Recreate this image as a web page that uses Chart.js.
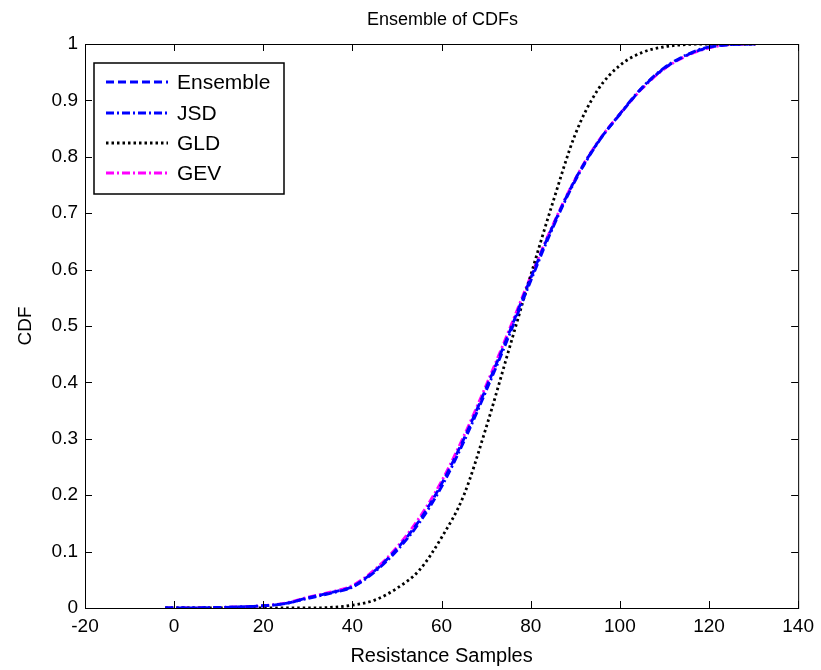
<!DOCTYPE html>
<html><head><meta charset="utf-8">
<script src="https://cdn.jsdelivr.net/npm/chart.js@4.4.1/dist/chart.umd.min.js"></script>
<style>html,body{margin:0;padding:0;background:#fff}#wrap{width:821px;height:670px}</style>
</head><body><div id="wrap"><canvas id="c" width="821" height="670"></canvas></div>
<script>
const titleText = "Ensemble of CDFs";
const xLabel = "Resistance Samples";
const yLabel = "CDF";
const seriesNames = ["Ensemble", "JSD", "GLD", "GEV"];

const xGrid = [-2, 0, 10, 20, 25, 30, 35, 40, 45, 50, 55, 60, 65, 70, 75, 80, 85, 90, 95, 100, 105, 110, 115, 120, 125, 130.4];
const ensembleCdf = [0, 0, 0.001, 0.004, 0.008, 0.018, 0.027, 0.038, 0.066, 0.105, 0.155, 0.22, 0.3, 0.39, 0.485, 0.585, 0.678, 0.76, 0.825, 0.875, 0.922, 0.957, 0.98, 0.994, 0.999, 1];
const jsdCdf      = [0, 0, 0.001, 0.004, 0.008, 0.017, 0.026, 0.037, 0.064, 0.102, 0.151, 0.215, 0.295, 0.385, 0.48, 0.58, 0.675, 0.758, 0.824, 0.876, 0.923, 0.958, 0.981, 0.995, 0.999, 1];
const gldCdf      = [0, 0, 0, 0, 0, 0, 0.001, 0.005, 0.014, 0.035, 0.067, 0.125, 0.2, 0.32, 0.455, 0.59, 0.72, 0.84, 0.918, 0.962, 0.985, 0.995, 0.999, 1, 1, 1];
const gevCdf      = [0, 0, 0.001, 0.004, 0.009, 0.019, 0.028, 0.04, 0.068, 0.108, 0.16, 0.225, 0.305, 0.395, 0.49, 0.588, 0.68, 0.761, 0.826, 0.876, 0.921, 0.956, 0.979, 0.993, 0.999, 1];

const xTicks = [-20, 0, 20, 40, 60, 80, 100, 120, 140];
const yTicks = [0, 0.1, 0.2, 0.3, 0.4, 0.5, 0.6, 0.7, 0.8, 0.9, 1];
const yTickLabels = ["0", "0.1", "0.2", "0.3", "0.4", "0.5", "0.6", "0.7", "0.8", "0.9", "1"];

const seriesData = [ensembleCdf, jsdCdf, gldCdf, gevCdf];
const colors = ["#0000ff", "#0000ff", "#000000", "#ff00ff"];
const dashes = [[8, 4], [8, 3, 2, 3], [2.5, 3], [8, 3, 2, 3]];
const FONT = "'Liberation Sans', Arial, Helvetica, sans-serif";

function pts(ys){ return xGrid.map((x,i)=>({x:x, y:ys[i]})); }

const datasets = seriesNames.map((n,i)=>({
  label: n, data: pts(seriesData[i]), showLine: true, borderColor: colors[i],
  borderWidth: 2.8, borderDash: dashes[i], pointRadius: 0, fill: false,
  cubicInterpolationMode: 'monotone'
}));

const overlay = {
  id: 'overlay',
  afterDraw(chart){
    const ctx = chart.ctx, a = chart.chartArea, xs = chart.scales.x, ys = chart.scales.y;
    ctx.save();
    ctx.strokeStyle = '#000'; ctx.lineWidth = 1;
    ctx.strokeRect(a.left+0.5, a.top+0.5, a.right-a.left, a.bottom-a.top);
    ctx.beginPath();
    xTicks.forEach(v=>{ const p = Math.round(xs.getPixelForValue(v))+0.5;
      ctx.moveTo(p, a.bottom); ctx.lineTo(p, a.bottom-7);
      ctx.moveTo(p, a.top); ctx.lineTo(p, a.top+7); });
    yTicks.forEach(v=>{ const p = Math.round(ys.getPixelForValue(v))+0.5;
      ctx.moveTo(a.left, p); ctx.lineTo(a.left+7, p);
      ctx.moveTo(a.right, p); ctx.lineTo(a.right-7, p); });
    ctx.stroke();
    ctx.fillStyle = '#000';
    ctx.textAlign = 'center'; ctx.textBaseline = 'alphabetic';
    ctx.font = '18px ' + FONT;
    ctx.fillText(titleText, (a.left+a.right)/2 + 1, 25);
    ctx.font = '20px ' + FONT;
    ctx.fillText(xLabel, (a.left+a.right)/2, 662);
    ctx.save(); ctx.translate(31, 326); ctx.rotate(-Math.PI/2);
    ctx.font = '19px ' + FONT;
    ctx.fillText(yLabel, 0, 0); ctx.restore();
    const lx = 94, ly = 63, lw = 190, lh = 131;
    ctx.fillStyle = '#fff'; ctx.fillRect(lx, ly, lw, lh);
    ctx.strokeStyle = '#000'; ctx.lineWidth = 1.5; ctx.strokeRect(lx, ly, lw, lh);
    const rows = [82, 113, 143, 173];
    ctx.font = '21px ' + FONT; ctx.textAlign = 'left'; ctx.textBaseline = 'middle';
    seriesNames.forEach((n,i)=>{
      ctx.beginPath(); ctx.strokeStyle = colors[i]; ctx.lineWidth = 2.8; ctx.setLineDash(dashes[i]);
      ctx.moveTo(106, rows[i]); ctx.lineTo(168, rows[i]); ctx.stroke();
      ctx.setLineDash([]);
      ctx.fillStyle = '#000'; ctx.fillText(n, 177, rows[i]+1);
    });
    ctx.restore();
  }
};

new Chart(document.getElementById('c'), {
  type: 'scatter',
  data: { datasets },
  options: {
    responsive: false, animation: false, devicePixelRatio: 1,
    layout: { padding: { top: 44, right: 21, left: 0, bottom: 0 } },
    plugins: { legend: { display: false }, tooltip: { enabled: false }, title: { display: false } },
    scales: {
      x: { type: 'linear', min: -20, max: 140,
        afterFit(s){ s.height = 62; },
        afterBuildTicks(s){ s.ticks = xTicks.map(v=>({value:v})); },
        grid: { display: false, drawTicks: false }, border: { display: false },
        ticks: { color: '#000', padding: 7, font: { size: 19, family: FONT }, maxRotation: 0 } },
      y: { type: 'linear', min: 0, max: 1,
        afterFit(s){ s.width = 85; },
        afterBuildTicks(s){ s.ticks = yTicks.map(v=>({value:v})); },
        grid: { display: false, drawTicks: false }, border: { display: false },
        ticks: { color: '#000', padding: 7, font: { size: 19, family: FONT },
          callback: (v)=>{ const i = yTicks.indexOf(v); return i >= 0 ? yTickLabels[i] : ''; } } }
    }
  },
  plugins: [overlay]
});
</script></body></html>
